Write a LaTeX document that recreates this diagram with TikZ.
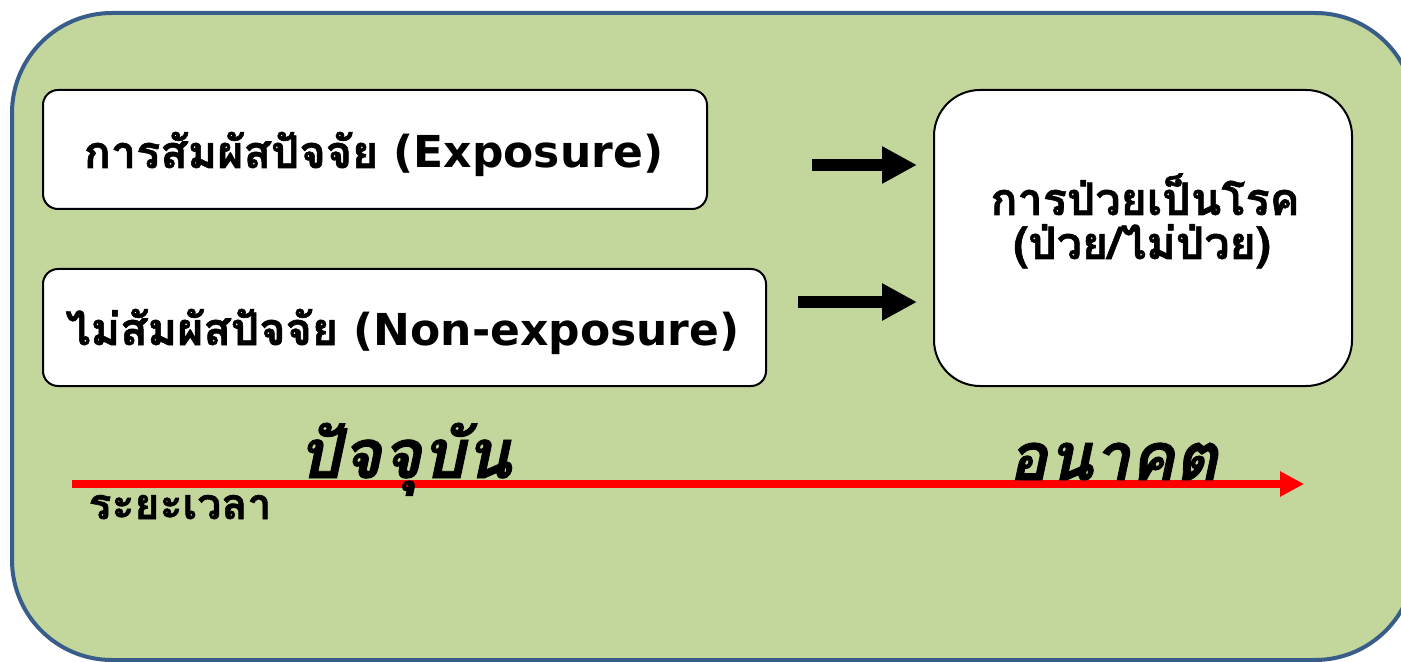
\documentclass[tikz,border=0pt]{standalone}
\usepackage{fontspec}
\setmainfont{DejaVu Sans}
\newfontfamily\thaifont[Script=Thai, Scale=1.02, BoldFeatures={FakeBold=1.2}, BoldItalicFeatures={FakeBold=1.2}]{Loma}
\usetikzlibrary{arrows.meta}

\definecolor{panelfill}{RGB}{195,214,155}
\definecolor{panelline}{RGB}{56,93,138}

\tikzset{every picture/.style={line width=0.5pt}}
\tikzset{
  card/.style={draw=black, fill=white, line width=1pt, inner sep=0pt, anchor=north west},
  boxtext/.style={anchor=base, inner sep=0.75pt, font=\fontsize{22}{26}\selectfont\bfseries},
  blockarrow/.style={line width=6pt, -{Triangle[length=17.5pt,width=17.5pt]}},
  timearrow/.style={draw=red, line width=4pt, -{Triangle[length=12pt,width=12pt]}},
}

\begin{document}
\begin{tikzpicture}[x=0.5pt,y=0.5pt,yscale=-1,xscale=1]
\useasboundingbox (0,0) rectangle (1401,662);
\clip (0,0) rectangle (1401,662);

%Rounded Rect (panel)
\draw [draw=panelline, fill=panelfill, line width=2pt, rounded corners=50pt] (12,13) rectangle (1415,660);

%Rounded Rect
\node (expo) [card, rounded corners=7.5pt, minimum width=332pt, minimum height=59.5pt] at (42,89) {};
%Rounded Rect
\node (nonexpo) [card, rounded corners=7.5pt, minimum width=361.5pt, minimum height=58.5pt] at (42,268) {};
%Rounded Rect
\node (sick) [card, rounded corners=23pt, minimum width=209pt, minimum height=148pt] at (933,89) {};

% Text Node
\draw (373.5,168) node (expotxt) [boxtext] {{\thaifont การสัมผัสปัจจัย} (Exposure)};
% Text Node
\draw (402.5,345) node (nonexpotxt) [boxtext] {{\thaifont ไม่สัมผัสปัจจัย} (Non-exposure)};
% Text Node
\draw (1145,215) node (sicktxt) [boxtext] {\thaifont การป่วยเป็นโรค};
% Text Node
\draw (1142,259) node (sicktxtb) [boxtext] {\thaifont (ป่วย/ไม่ป่วย)};

%Block Arrows
\coordinate (a1s) at (812,165);
\coordinate (a1e) at (917,165);
\coordinate (a2s) at (798,302);
\coordinate (a2e) at (917,302);
\draw [blockarrow] (a1s) -- (a1e);
\draw [blockarrow] (a2s) -- (a2e);

%Straight Lines (time axis)
\coordinate (t0) at (72,484);
\coordinate (t1) at (1304,484);
\draw [timearrow] (t0) -- (t1);

% Text Node
\draw (405,478) node (now) [anchor=base, inner sep=0.75pt] {\fontsize{33.5}{38}\selectfont\bfseries\itshape\thaifont ปัจจุบัน};
% Text Node
\draw (1113,480) node (future) [anchor=base, inner sep=0.75pt] {\fontsize{32.5}{38}\selectfont\bfseries\itshape\thaifont อนาคต};
% Text Node
\draw (180,519) node (period) [anchor=base, inner sep=0.75pt] {\fontsize{21}{24}\selectfont\bfseries\thaifont ระยะเวลา};
\end{tikzpicture}
\end{document}
